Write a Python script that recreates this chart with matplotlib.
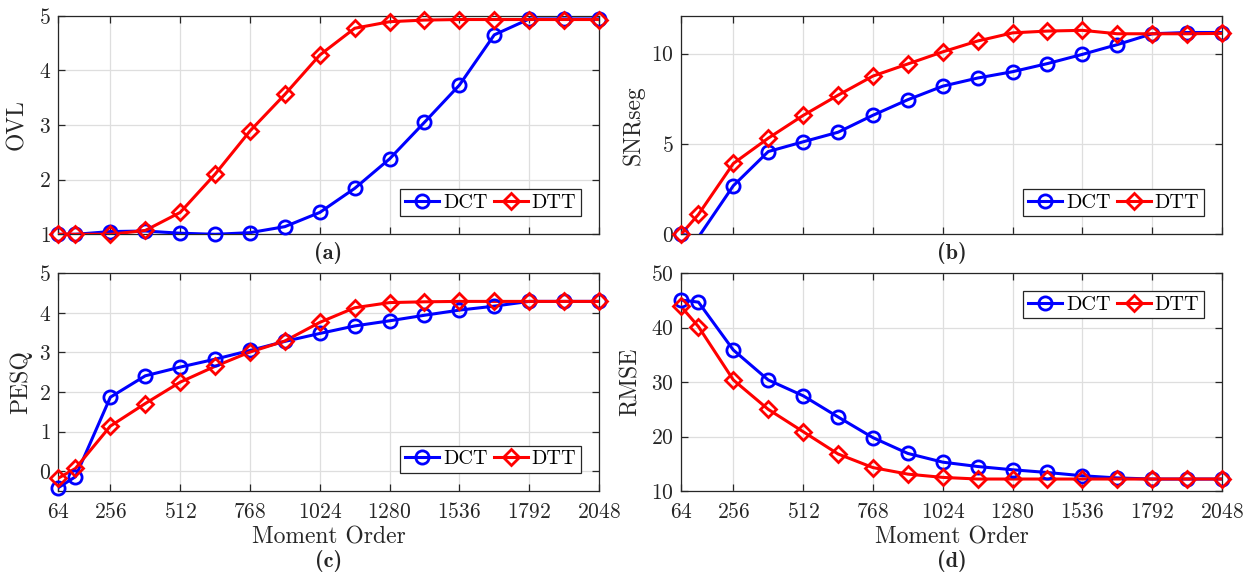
import numpy as np
import matplotlib
matplotlib.use("Agg")
import matplotlib.pyplot as plt
from matplotlib.lines import Line2D

plt.rcParams['font.family'] = 'serif'
plt.rcParams['font.serif'] = ['cmr10']
plt.rcParams['mathtext.fontset'] = 'cm'
plt.rcParams['axes.formatter.use_mathtext'] = True

# moment orders (x axis)
order = [64, 128, 256, 384, 512, 640, 768, 896, 1024, 1152, 1280,
         1408, 1536, 1664, 1792, 1920, 2048]
xticks = [64, 256, 512, 768, 1024, 1280, 1536, 1792, 2048]

# (a) OVL
ovl_dct = [1.0, 1.0, 1.05, 1.06, 1.02, 1.0, 1.03, 1.14, 1.40, 1.84, 2.38,
           3.05, 3.73, 4.65, 4.94, 4.94, 4.94]
ovl_dtt = [1.0, 1.0, 1.0, 1.07, 1.40, 2.10, 2.89, 3.56, 4.28, 4.77, 4.89,
           4.92, 4.93, 4.93, 4.93, 4.93, 4.93]

# (b) SNRseg
snr_dct = [0.0, -0.15, 2.69, 4.58, 5.12, 5.65, 6.59, 7.45, 8.2, 8.65, 9.0,
           9.45, 9.96, 10.5, 11.1, 11.17, 11.17]
snr_dtt = [0.0, 1.1, 3.92, 5.32, 6.58, 7.70, 8.76, 9.43, 10.1, 10.7, 11.15,
           11.25, 11.29, 11.1, 11.1, 11.1, 11.12]

# (c) PESQ
pesq_dct = [-0.42, -0.14, 1.87, 2.41, 2.63, 2.83, 3.05, 3.28, 3.48, 3.67, 3.80,
            3.94, 4.07, 4.17, 4.29, 4.29, 4.29]
pesq_dtt = [-0.18, 0.07, 1.14, 1.71, 2.25, 2.65, 3.01, 3.29, 3.76, 4.13, 4.26,
            4.28, 4.29, 4.29, 4.29, 4.29, 4.29]

# (d) RMSE
rmse_dct = [45.1, 44.7, 35.9, 30.4, 27.5, 23.6, 19.8, 16.9, 15.3, 14.5, 13.9,
            13.4, 12.8, 12.4, 12.2, 12.2, 12.2]
rmse_dtt = [43.9, 40.2, 30.4, 25.0, 20.9, 16.8, 14.3, 13.1, 12.5, 12.2, 12.2,
            12.2, 12.2, 12.2, 12.2, 12.2, 12.2]

panels = [
    ('OVL', ovl_dct, ovl_dtt, (1, 5), [1, 2, 3, 4, 5], '(a)', 'lower right', -0.055),
    ('SNRseg', snr_dct, snr_dtt, (0, 12.1), [0, 5, 10], '(b)', 'lower right', -0.067),
    ('PESQ', pesq_dct, pesq_dtt, (-0.5, 5), [0, 1, 2, 3, 4, 5], '(c)', 'lower right', -0.048),
    ('RMSE', rmse_dct, rmse_dtt, (10, 50), [10, 20, 30, 40, 50], '(d)', 'upper right', -0.072),
]

W, H = 1253, 580
fig = plt.figure(figsize=(W / 100, H / 100), dpi=100)
rects = [(58, 15.7, 599, 234.3), (681, 15.7, 1222, 234.3),
         (58, 273.3, 599, 491), (681, 273.3, 1222, 491)]

dark = (0.15, 0.15, 0.15)
series = [('DCT', 'b', 'o', 9.5), ('DTT', 'r', 'D', 8.5)]

for i, (ylab, dct, dtt, ylim, yt, tag, loc, ylx) in enumerate(panels):
    l, t, r, b = rects[i]
    ax = fig.add_axes([l / W, 1 - b / H, (r - l) / W, (b - t) / H])
    handles = []
    for (name, c, m, ms), vals in zip(series, [dct, dtt]):
        vals = np.array(vals)
        ax.plot(order, vals, '-', color=c, lw=2.2, zorder=3)
        keep = (vals >= ylim[0]) & (vals <= ylim[1])
        ax.plot(np.array(order)[keep], vals[keep], linestyle='none', marker=m,
                ms=ms, mfc='none', mec=c, mew=2.0, clip_on=False, zorder=4)
        handles.append(Line2D([], [], color=c, lw=2.2, marker=m, ms=ms,
                              mfc='none', mec=c, mew=2.0, label=name))
    ax.set_xlim(64, 2048)
    ax.set_ylim(*ylim)
    ax.set_xticks(xticks)
    ax.set_yticks(yt)
    ax.grid(True, color=(0.87, 0.87, 0.87), lw=0.9)
    ax.set_axisbelow(True)
    ax.tick_params(direction='in', top=True, right=True, length=5,
                   width=0.9, color=dark, labelcolor=dark, labelsize=15.5)
    ax.tick_params(axis='x', pad=8)
    ax.tick_params(axis='y', pad=5)
    for s in ax.spines.values():
        s.set_color(dark)
        s.set_linewidth(0.9)
    ax.set_ylabel(ylab, fontsize=17, color=dark)
    ax.yaxis.set_label_coords(ylx, 0.5)
    if i < 2:
        ax.set_xticklabels([])
        off = -18
    else:
        ax.set_xlabel('Moment Order', fontsize=17, color=dark, labelpad=3)
        off = -55
    ax.annotate(tag, xy=(0.5, 0), xycoords='axes fraction',
                xytext=(0, off), textcoords='offset points', va='baseline',
                ha='center', fontsize=16, fontname='cmb10', color=dark)
    leg = ax.legend(handles=handles, loc=loc, ncol=2, fontsize=14.5,
                    handlelength=1.7, columnspacing=0.3, handletextpad=0.2,
                    borderpad=0.22, borderaxespad=0.9, fancybox=False,
                    framealpha=1, edgecolor=dark)
    leg.get_frame().set_linewidth(0.9)

fig.savefig('out.png', dpi=100)
